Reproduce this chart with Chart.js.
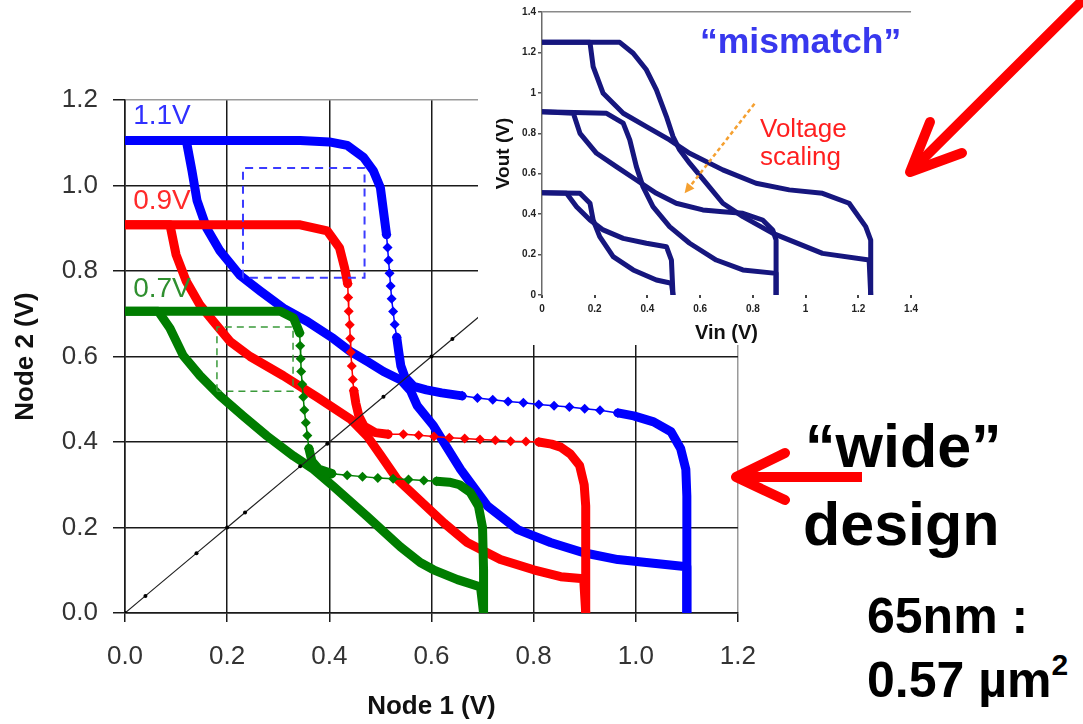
<!DOCTYPE html>
<html>
<head>
<meta charset="utf-8">
<script src="https://cdn.jsdelivr.net/npm/chart.js@4.4.1/dist/chart.umd.min.js"></script>
<style>
  html, body { margin: 0; padding: 0; background: #fff; }
  #page { position: relative; width: 1083px; height: 724px; overflow: hidden; font-family: "Liberation Sans", Arial, sans-serif; }
  #mainChart { position: absolute; left: 0; top: 0; }
  #insetChart { position: absolute; left: 478px; top: 0; background: #fff; filter: blur(0.6px); }
  .note { position: absolute; white-space: nowrap; line-height: 1; font-weight: bold; }
  #arrows { position: absolute; left: 0; top: 0; }
</style>
</head>
<body>
<div id="page">
  <canvas id="mainChart" width="775" height="724"></canvas>
  <canvas id="insetChart" width="445" height="345"></canvas>

  <div class="note" style="left:700px; top:24px; font-size:35.5px; color:#3838ee;">“mismatch”</div>
  <div class="note" style="left:760px; top:115px; font-size:26px; font-weight:normal; color:#ff1f1f;">Voltage</div>
  <div class="note" style="left:760px; top:143px; font-size:26px; font-weight:normal; color:#ff1f1f;">scaling</div>

  <div class="note" style="left:805px; top:416px; font-size:61px; color:#000;">“wide”</div>
  <div class="note" style="left:803px; top:494px; font-size:61px; color:#000;">design</div>
  <div class="note" style="left:867px; top:591px; font-size:50px; color:#000;">65nm :</div>
  <div class="note" style="left:867px; top:655px; font-size:50px; color:#000;">0.57 µm<sup style="font-size:30px; vertical-align:22px; line-height:0;">2</sup></div>

  <svg id="arrows" width="1083" height="724">
    <g stroke="#ff0000" stroke-width="10" fill="none" stroke-linecap="round" stroke-linejoin="round">
      <line x1="862" y1="477" x2="742" y2="477" stroke-linecap="butt"/>
      <polyline points="785,453 736,477 785,500"/>
      <line x1="1095" y1="-12" x2="916" y2="166"/>
      <polyline points="930,122 910,172 962,153"/>
    </g>
  </svg>
</div>

<script>
// ---- main butterfly plot: Node 1 (V) vs Node 2 (V) ----
// step-shaped curves are split into pieces; odd pieces are the sparsely sampled stretches
const blueStep = [
  [[0, 1.105], [0.2, 1.105], [0.343, 1.105], [0.40, 1.102], [0.435, 1.094], [0.467, 1.066], [0.486, 1.035], [0.50, 0.995], [0.506, 0.94], [0.512, 0.885]],
  [[0.512, 0.885], [0.514, 0.855], [0.516, 0.825], [0.518, 0.795], [0.52, 0.765], [0.522, 0.735], [0.525, 0.705], [0.528, 0.675], [0.532, 0.645]],
  [[0.532, 0.645], [0.536, 0.61], [0.54, 0.578], [0.548, 0.552], [0.565, 0.53], [0.59, 0.522], [0.62, 0.515], [0.66, 0.508]],
  [[0.66, 0.508], [0.69, 0.503], [0.72, 0.499], [0.75, 0.495], [0.78, 0.492], [0.81, 0.488], [0.84, 0.485], [0.87, 0.482], [0.90, 0.478], [0.93, 0.474], [0.965, 0.468]],
  [[0.965, 0.468], [0.996, 0.461], [1.035, 0.447], [1.069, 0.424], [1.088, 0.384], [1.098, 0.336], [1.10, 0.273], [1.10, 0]]
];
const blueSmooth = [[0, 1.105], [0.12, 1.105], [0.131, 1.035], [0.141, 0.965], [0.16, 0.90], [0.186, 0.847], [0.225, 0.79], [0.265, 0.753], [0.31, 0.713], [0.357, 0.682], [0.408, 0.642], [0.441, 0.612], [0.475, 0.588], [0.506, 0.565], [0.54, 0.545], [0.559, 0.52], [0.572, 0.485], [0.604, 0.438], [0.657, 0.336], [0.71, 0.25], [0.769, 0.195], [0.833, 0.165], [0.898, 0.141], [0.965, 0.125], [1.03, 0.117], [1.10, 0.108], [1.10, 0]];

const redStep = [
  [[0, 0.908], [0.2, 0.908], [0.343, 0.908], [0.396, 0.894], [0.42, 0.854], [0.43, 0.807], [0.436, 0.77]],
  [[0.436, 0.77], [0.437, 0.738], [0.438, 0.706], [0.44, 0.674], [0.441, 0.642], [0.442, 0.61], [0.444, 0.578], [0.446, 0.546], [0.448, 0.52]],
  [[0.448, 0.52], [0.452, 0.49], [0.458, 0.46], [0.468, 0.437], [0.49, 0.422], [0.515, 0.418]],
  [[0.515, 0.418], [0.545, 0.418], [0.575, 0.416], [0.605, 0.413], [0.635, 0.41], [0.665, 0.408], [0.695, 0.406], [0.725, 0.404], [0.755, 0.402], [0.785, 0.401], [0.81, 0.40]],
  [[0.81, 0.40], [0.835, 0.395], [0.853, 0.388], [0.872, 0.372], [0.89, 0.345], [0.899, 0.30], [0.902, 0.25], [0.902, 0]]
];
const redSmooth = [[0, 0.908], [0.088, 0.908], [0.10, 0.838], [0.12, 0.776], [0.147, 0.72], [0.173, 0.682], [0.206, 0.635], [0.245, 0.60], [0.31, 0.555], [0.376, 0.505], [0.441, 0.454], [0.474, 0.414], [0.50, 0.37], [0.533, 0.313], [0.58, 0.26], [0.625, 0.21], [0.67, 0.165], [0.735, 0.125], [0.80, 0.101], [0.853, 0.085], [0.898, 0.08], [0.902, 0]];

const greenStep = [
  [[0, 0.706], [0.2, 0.706], [0.304, 0.706], [0.33, 0.69], [0.342, 0.655]],
  [[0.342, 0.655], [0.343, 0.625], [0.344, 0.595], [0.345, 0.565], [0.347, 0.535], [0.349, 0.505], [0.351, 0.475], [0.354, 0.445], [0.357, 0.415], [0.36, 0.385]],
  [[0.36, 0.385], [0.366, 0.355], [0.38, 0.336], [0.405, 0.326]],
  [[0.405, 0.326], [0.435, 0.322], [0.465, 0.319], [0.495, 0.316], [0.525, 0.314], [0.555, 0.312], [0.585, 0.31], [0.61, 0.308]],
  [[0.61, 0.308], [0.635, 0.306], [0.655, 0.30], [0.676, 0.282], [0.692, 0.25], [0.70, 0.20], [0.702, 0.1], [0.702, 0]]
];
const greenSmooth = [[0, 0.706], [0.065, 0.706], [0.088, 0.666], [0.114, 0.602], [0.147, 0.555], [0.186, 0.508], [0.231, 0.461], [0.278, 0.414], [0.33, 0.367], [0.369, 0.336], [0.408, 0.296], [0.474, 0.226], [0.539, 0.155], [0.578, 0.118], [0.604, 0.101], [0.651, 0.078], [0.696, 0.061], [0.702, 0]];

const diagonal = [[0, 0], [0.04, 0.04], [0.14, 0.14], [0.2, 0.2], [0.235, 0.235], [0.343, 0.343], [0.396, 0.396], [0.506, 0.506], [0.6, 0.6], [0.641, 0.641], [0.78, 0.78]];

// noise-margin squares
const blueBox = [[0.231, 0.784], [0.231, 1.041], [0.469, 1.041], [0.469, 0.784], [0.231, 0.784]];
const greenBox = [[0.18, 0.519], [0.18, 0.669], [0.329, 0.669], [0.329, 0.519], [0.18, 0.519]];

const supplyLabels = ['1.1V', '0.9V', '0.7V'];
const mainTicks = [0, 0.2, 0.4, 0.6, 0.8, 1.0, 1.2];

// ---- inset: Vin vs Vout under mismatch ----
const insetHighA = [[0, 1.25], [0.182, 1.25], [0.194, 1.13], [0.232, 0.998], [0.308, 0.899], [0.396, 0.833], [0.484, 0.767], [0.56, 0.701], [0.686, 0.619], [0.812, 0.553], [0.938, 0.52], [1.064, 0.503], [1.165, 0.454], [1.228, 0.338], [1.247, 0.272], [1.247, 0]];
const insetHighB = [[0, 1.25], [0.295, 1.25], [0.346, 1.196], [0.396, 1.114], [0.434, 1.015], [0.472, 0.883], [0.497, 0.784], [0.522, 0.718], [0.56, 0.652], [0.623, 0.553], [0.686, 0.454], [0.762, 0.388], [0.876, 0.305], [1.064, 0.206], [1.241, 0.173], [1.247, 0]];
const insetMidA = [[0, 0.907], [0.119, 0.899], [0.144, 0.80], [0.207, 0.701], [0.282, 0.635], [0.358, 0.569], [0.434, 0.503], [0.509, 0.454], [0.61, 0.421], [0.686, 0.412], [0.762, 0.404], [0.837, 0.371], [0.875, 0.322], [0.888, 0.272], [0.888, 0]];
const insetMidB = [[0, 0.907], [0.245, 0.899], [0.308, 0.85], [0.333, 0.767], [0.358, 0.635], [0.383, 0.536], [0.421, 0.437], [0.484, 0.338], [0.56, 0.256], [0.661, 0.173], [0.762, 0.124], [0.888, 0.107], [0.888, 0]];
const insetLowA = [[0, 0.506], [0.093, 0.503], [0.131, 0.437], [0.182, 0.371], [0.232, 0.322], [0.308, 0.28], [0.396, 0.256], [0.472, 0.239], [0.491, 0.173], [0.497, 0]];
const insetLowB = [[0, 0.506], [0.144, 0.503], [0.182, 0.454], [0.194, 0.371], [0.219, 0.289], [0.27, 0.19], [0.346, 0.124], [0.434, 0.074], [0.491, 0.058], [0.497, 0]];
const insetTicks = [0, 0.2, 0.4, 0.6, 0.8, 1, 1.2, 1.4];

Chart.defaults.font.family = '"Liberation Sans", Arial, sans-serif';
Chart.defaults.animation = false;

const toXY = pts => pts.map(p => ({ x: p[0], y: p[1] }));
const near = (a, b) => Math.abs(a - b) < 1e-6;

function thickLine(pts, color) {
  return {
    data: toXY(pts), showLine: true, borderColor: color, backgroundColor: color,
    borderWidth: 9, pointRadius: 0, borderCapStyle: 'round', borderJoinStyle: 'round'
  };
}
function sparseLine(pts, color) {
  return {
    data: toXY(pts), showLine: true, borderColor: color, backgroundColor: color,
    borderWidth: 1.5, pointRadius: 5, pointStyle: 'rectRot', pointBorderWidth: 0
  };
}
function stepDatasets(pieces, color) {
  return pieces.map((p, i) => (i % 2 ? sparseLine(p, color) : thickLine(p, color)));
}

const BLUE = '#0000ff', RED = '#ff0000', GREEN = '#007d00';

const labelPlugin = {
  id: 'supplyLabels',
  afterDatasetsDraw(chart) {
    const { ctx, scales: { x, y } } = chart;
    const colors = ['#3030ff', '#ff2a2a', '#2f8f2f'];
    const at = [1.161, 0.963, 0.758];
    ctx.save();
    ctx.font = '28px "Liberation Sans", Arial, sans-serif';
    ctx.textBaseline = 'middle';
    ctx.textAlign = 'left';
    supplyLabels.forEach((t, i) => {
      ctx.fillStyle = colors[i];
      ctx.fillText(t, x.getPixelForValue(0.016), y.getPixelForValue(at[i]));
    });
    ctx.restore();
  }
};

new Chart(document.getElementById('mainChart'), {
  type: 'scatter',
  data: {
    datasets: [
      {
        data: toXY(diagonal), showLine: true, borderColor: '#222', borderWidth: 1.2,
        pointRadius: 2, pointBackgroundColor: '#000', pointBorderWidth: 0
      },
      { data: toXY(blueBox), showLine: true, borderColor: '#3b3bff', borderWidth: 2, borderDash: [8, 6], pointRadius: 0 },
      { data: toXY(greenBox), showLine: true, borderColor: '#3a9a3a', borderWidth: 1.5, borderDash: [7, 5], pointRadius: 0 },
      ...stepDatasets(greenStep, GREEN),
      thickLine(greenSmooth, GREEN),
      ...stepDatasets(redStep, RED),
      thickLine(redSmooth, RED),
      ...stepDatasets(blueStep, BLUE),
      thickLine(blueSmooth, BLUE)
    ]
  },
  options: {
    responsive: false,
    // the x axis reserves half the last label plus its padding on the right
    layout: { padding: { top: 100, right: 0, left: 0, bottom: 0 } },
    plugins: { legend: { display: false }, tooltip: { enabled: false } },
    scales: {
      x: {
        type: 'linear', min: 0, max: 1.2,
        afterFit: s => { s.height = 111; },
        afterBuildTicks: s => { s.ticks = mainTicks.map(v => ({ value: v })); },
        ticks: { autoSkip: false, padding: 19, color: '#333', font: { size: 26 }, callback: v => v.toFixed(1) },
        grid: {
          color: c => (near(c.tick.value, 1.2) ? '#9a9a9a' : '#1a1a1a'),
          lineWidth: 1.5, tickLength: 9, tickColor: '#1a1a1a'
        },
        border: { color: '#1a1a1a', width: 1.5 },
        title: { display: true, text: 'Node 1 (V)', color: '#111', font: { size: 26, weight: 'bold' }, padding: { top: 0, bottom: 2 } }
      },
      y: {
        type: 'linear', min: 0, max: 1.2,
        afterFit: s => { s.width = 125; },
        afterBuildTicks: s => { s.ticks = mainTicks.map(v => ({ value: v })); },
        ticks: { autoSkip: false, padding: 15, color: '#333', font: { size: 26 }, callback: v => v.toFixed(1) },
        grid: {
          color: c => (near(c.tick.value, 1.2) ? '#9a9a9a' : '#1a1a1a'),
          lineWidth: 1.5, tickLength: 12, tickColor: '#1a1a1a'
        },
        border: { color: '#1a1a1a', width: 1.5 },
        title: { display: true, text: 'Node 2 (V)', color: '#111', font: { size: 26, weight: 'bold' }, padding: { top: 10, bottom: 0 } }
      }
    }
  },
  plugins: [labelPlugin]
});

// orange dotted arrow across the inset curves
const scalingArrow = {
  id: 'scalingArrow',
  afterDatasetsDraw(chart) {
    const { ctx, scales: { x, y } } = chart;
    const x0 = x.getPixelForValue(0.806), y0 = y.getPixelForValue(0.946);
    const x1 = x.getPixelForValue(0.541), y1 = y.getPixelForValue(0.503);
    const ang = Math.atan2(y1 - y0, x1 - x0);
    ctx.save();
    ctx.strokeStyle = '#f5a030';
    ctx.fillStyle = '#f5a030';
    ctx.lineWidth = 2.5;
    ctx.setLineDash([4, 3]);
    ctx.beginPath();
    ctx.moveTo(x0, y0);
    ctx.lineTo(x1 - 8 * Math.cos(ang), y1 - 8 * Math.sin(ang));
    ctx.stroke();
    ctx.setLineDash([]);
    ctx.beginPath();
    ctx.moveTo(x1, y1);
    ctx.lineTo(x1 - 11 * Math.cos(ang - 0.45), y1 - 11 * Math.sin(ang - 0.45));
    ctx.lineTo(x1 - 11 * Math.cos(ang + 0.45), y1 - 11 * Math.sin(ang + 0.45));
    ctx.closePath();
    ctx.fill();
    ctx.restore();
  }
};

const NAVY = '#16167e';
const insetLine = pts => ({
  data: toXY(pts), showLine: true, borderColor: NAVY, borderWidth: 5,
  pointRadius: 0, borderCapStyle: 'round', borderJoinStyle: 'round'
});

new Chart(document.getElementById('insetChart'), {
  type: 'scatter',
  data: {
    datasets: [insetHighA, insetHighB, insetMidA, insetMidB, insetLowA, insetLowB].map(insetLine)
  },
  options: {
    responsive: false,
    layout: { padding: { top: 12, right: 11, left: 0, bottom: 0 } },
    plugins: { legend: { display: false }, tooltip: { enabled: false } },
    scales: {
      x: {
        type: 'linear', min: 0, max: 1.4,
        afterFit: s => { s.height = 50; },
        afterBuildTicks: s => { s.ticks = insetTicks.map(v => ({ value: v })); },
        ticks: { autoSkip: false, padding: 5, color: '#222', font: { size: 10, weight: 'bold' }, callback: v => String(Math.round(v * 10) / 10) },
        grid: { color: 'rgba(0,0,0,0)', tickLength: 3, tickColor: '#444', lineWidth: 2 },
        border: { display: false },
        title: { display: true, text: 'Vin (V)', color: '#111', font: { size: 20, weight: 'bold' }, padding: { top: 0, bottom: 0 } }
      },
      y: {
        type: 'linear', min: 0, max: 1.4,
        afterFit: s => { s.width = 64; },
        afterBuildTicks: s => { s.ticks = insetTicks.map(v => ({ value: v })); },
        ticks: { autoSkip: false, padding: 2, color: '#222', font: { size: 10, weight: 'bold' }, callback: v => String(Math.round(v * 10) / 10) },
        grid: {
          color: c => (near(c.tick.value, 1.4) ? '#8a8a8a' : 'rgba(0,0,0,0)'),
          tickLength: 4, tickColor: '#555', lineWidth: 1.5
        },
        border: { color: '#6a6a6a', width: 1.5 },
        title: { display: true, text: 'Vout (V)', color: '#111', font: { size: 19, weight: 'bold' }, padding: { top: 14, bottom: 0 } }
      }
    }
  },
  plugins: [scalingArrow]
});
</script>
</body>
</html>
